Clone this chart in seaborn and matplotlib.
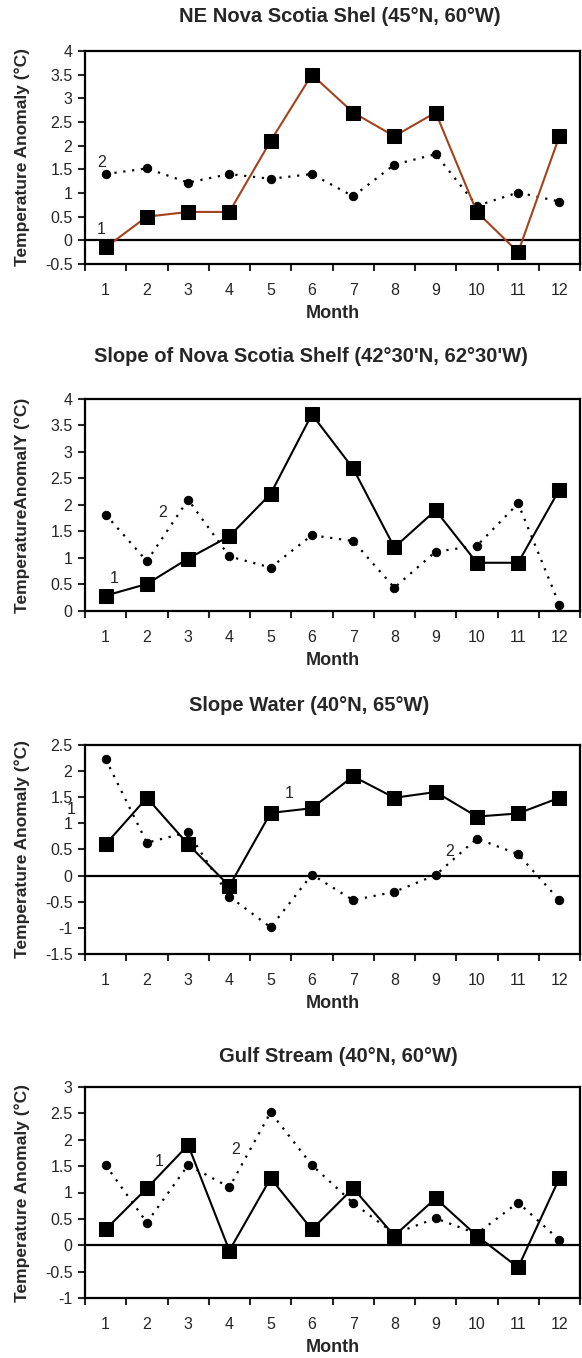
import matplotlib
matplotlib.use("Agg")
import matplotlib.pyplot as plt
import numpy as np
import pandas as pd
import seaborn as sns

months = list(range(1, 13))

# series 1 = squares, series 2 = circles
ne_shelf_1 = [-0.15, 0.5, 0.6, 0.6, 2.1, 3.5, 2.7, 2.2, 2.7, 0.6, -0.25, 2.2]
ne_shelf_2 = [1.4, 1.52, 1.22, 1.4, 1.3, 1.4, 0.93, 1.6, 1.82, 0.73, 1.01, 0.82]

slope_shelf_1 = [0.29, 0.51, 0.99, 1.41, 2.21, 3.71, 2.69, 1.2, 1.9, 0.91, 0.91, 2.29]
slope_shelf_2 = [1.82, 0.94, 2.1, 1.03, 0.82, 1.43, 1.32, 0.44, 1.12, 1.23, 2.03, 0.12]

slope_water_1 = [0.6, 1.49, 0.6, -0.2, 1.2, 1.29, 1.9, 1.49, 1.6, 1.13, 1.19, 1.49]
slope_water_2 = [2.23, 0.63, 0.83, -0.4, -0.99, 0.02, -0.47, -0.31, 0.01, 0.71, 0.41, -0.47]

gulf_1 = [0.3, 1.08, 1.9, -0.1, 1.27, 0.3, 1.08, 0.18, 0.89, 0.18, -0.42, 1.27]
gulf_2 = [1.52, 0.43, 1.52, 1.1, 2.52, 1.52, 0.8, 0.22, 0.51, 0.22, 0.81, 0.1]

titles = [
    "NE Nova Scotia Shel (45°N, 60°W)",
    "Slope of Nova Scotia Shelf (42°30'N, 62°30'W)",
    "Slope Water (40°N, 65°W)",
    "Gulf Stream (40°N, 60°W)",
]
ylabels = [
    "Temperature Anomaly (°C)",
    "TemperatureAnomalY (°C)",
    "Temperature Anomaly (°C)",
    "Temperature Anomaly (°C)",
]

sns.set_style("ticks")
plt.rcParams["font.family"] = ["Liberation Sans", "DejaVu Sans"]

W, H = 582, 1358
fig = plt.figure(figsize=(W / 100, H / 100), dpi=100)


def add_panel(box, title, title_pos, s1, s2, ylim, ylabel, color1, zero, notes):
    left, top, right, bottom = box
    ax = fig.add_axes([left / W, 1 - bottom / H, (right - left) / W, (bottom - top) / H])
    df = pd.DataFrame({"Month": months, "s1": s1, "s2": s2})

    if zero:
        ax.axhline(0, color="black", lw=1.6, zorder=1)
    sns.lineplot(data=df, x="Month", y="s2", ax=ax, color="black", lw=1.6,
                 linestyle=(0, (1, 3)), marker="o", markersize=6,
                 markeredgecolor="black", markerfacecolor="black", zorder=3)
    sns.lineplot(data=df, x="Month", y="s1", ax=ax, color=color1, lw=1.5,
                 marker="s", markersize=10, markeredgecolor="black",
                 markerfacecolor="black", zorder=4)

    ax.set_xlim(0.5, 12.5)
    ax.set_xticks(np.arange(0.5, 13, 1))
    ax.set_xticklabels([])
    ax.set_xticks(months, minor=True)
    ax.set_xticklabels([str(m) for m in months], minor=True)
    ax.tick_params(axis="x", which="major", direction="out", length=5, width=1.5)
    ax.tick_params(axis="x", which="minor", length=0, pad=14, labelsize=11.5)

    ax.set_ylim(*ylim)
    yt = np.arange(ylim[0], ylim[1] + 0.01, 0.5)
    ax.set_yticks(yt)
    ax.set_yticklabels([f"{v:g}" for v in yt])
    ax.tick_params(axis="y", direction="out", length=5, width=1.5, pad=4, labelsize=11.5)

    for sp in ax.spines.values():
        sp.set_visible(True)
        sp.set_linewidth(1.6)
        sp.set_color("black")

    ax.set_xlabel("Month", fontsize=13, fontweight="bold", labelpad=5)
    ax.set_ylabel(ylabel, fontsize=12.5, fontweight="bold")
    ax.yaxis.set_label_coords(-0.112, 0.5)

    for x, y, t in notes:
        ax.text(x, y, t, fontsize=11.5, ha="center", va="center", clip_on=False)

    fig.text(title_pos[0] / W, 1 - title_pos[1] / H, title, ha="center", va="center",
             fontsize=14.5, fontweight="bold")
    return ax


add_panel((85, 51, 580, 264), titles[0], (340, 16), ne_shelf_1, ne_shelf_2,
          (-0.5, 4), ylabels[0], "#A4421C", True,
          [(0.9, 1.64, "2"), (0.9, 0.22, "1")])
add_panel((85, 399, 580, 611), titles[1], (311, 357), slope_shelf_1, slope_shelf_2,
          (0, 4), ylabels[1], "black", False,
          [(2.38, 1.85, "2"), (1.2, 0.62, "1")])
add_panel((85, 745, 580, 954), titles[2], (309, 705), slope_water_1, slope_water_2,
          (-1.5, 2.5), ylabels[2], "black", True,
          [(5.45, 1.58, "1"), (9.35, 0.46, "2"), (0.16, 1.27, "1")])
add_panel((85, 1087, 580, 1298), titles[3], (338, 1056), gulf_1, gulf_2,
          (-1, 3), ylabels[3], "black", True,
          [(2.3, 1.58, "1"), (4.15, 1.82, "2")])

fig.savefig("out.png", dpi=100)
